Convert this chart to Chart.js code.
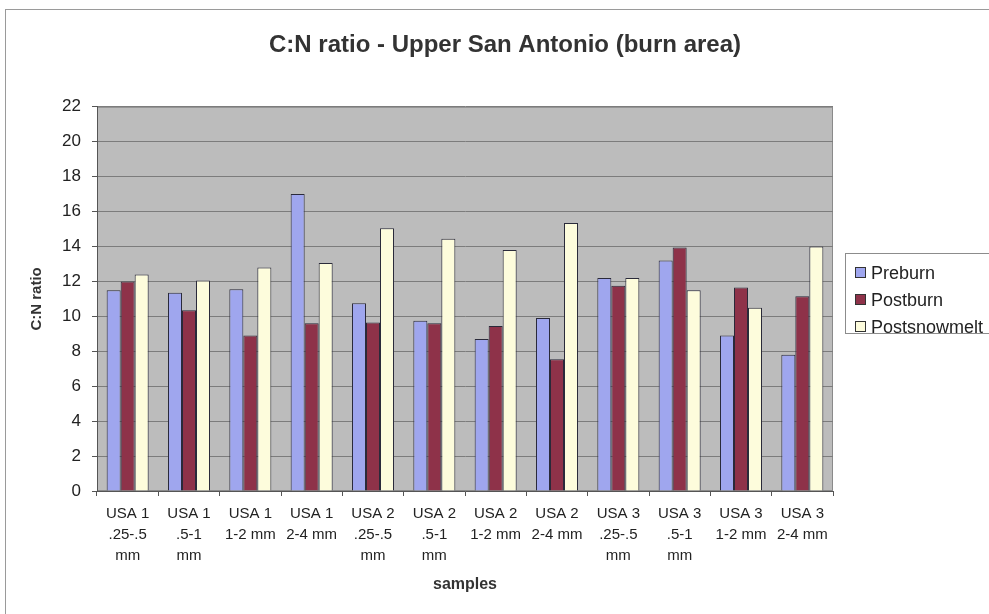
<!DOCTYPE html>
<html>
<head>
<meta charset="utf-8">
<script src="https://cdn.jsdelivr.net/npm/chart.js@4"></script>
<style>
  html, body { margin: 0; padding: 0; background: #ffffff; overflow: hidden; }
  #wrap { position: relative; width: 989px; height: 614px; overflow: hidden; }
  #frame {
    position: absolute; left: 5px; top: 9px; width: 1100px; height: 700px;
    border-top: 1px solid #9a9a9a; border-left: 1px solid #9a9a9a;
  }
  #chartCN { position: absolute; left: 0; top: 0; }
  #legende {
    position: absolute; left: 845px; top: 253px; width: 170px; height: 79px;
    border: 1px solid #8c8c8c; background: #ffffff;
    font-family: "Liberation Sans", Arial, sans-serif; font-size: 18px; color: #222;
  }
  .item { position: absolute; left: 9px; height: 20px; line-height: 20px; white-space: nowrap; }
  .item span.carre {
    display: inline-block; width: 9px; height: 9px; border: 1px solid #333;
    margin-right: 5px; vertical-align: 1px;
  }
</style>
</head>
<body>
<div id="wrap">
  <div id="frame"></div>
  <canvas id="chartCN" width="1010" height="614"></canvas>
  <div id="legende"></div>
</div>
<script>
// donnees
const echantillons = [
  ["USA 1", ".25-.5", "mm"], ["USA 1", ".5-1", "mm"], ["USA 1", "1-2 mm"], ["USA 1", "2-4 mm"],
  ["USA 2", ".25-.5", "mm"], ["USA 2", ".5-1", "mm"], ["USA 2", "1-2 mm"], ["USA 2", "2-4 mm"],
  ["USA 3", ".25-.5", "mm"], ["USA 3", ".5-1", "mm"], ["USA 3", "1-2 mm"], ["USA 3", "2-4 mm"],
];
const preburn = [11.5, 11.35, 11.55, 17.0, 10.75, 9.75, 8.7, 9.9, 12.2, 13.2, 8.9, 7.8];
const postburn = [12.0, 10.35, 8.9, 9.6, 9.65, 9.6, 9.45, 7.55, 11.75, 13.95, 11.65, 11.15];
const postsnowmelt = [12.4, 12.05, 12.8, 13.05, 15.05, 14.45, 13.8, 15.35, 12.2, 11.5, 10.5, 14.0];
const yTicks = [0, 2, 4, 6, 8, 10, 12, 14, 16, 18, 20, 22];

const series = [
  { label: "Preburn", data: preburn, color: "#9fa6ee" },
  { label: "Postburn", data: postburn, color: "#8e3249" },
  { label: "Postsnowmelt", data: postsnowmelt, color: "#fdfcdc" },
];

const police = "'Liberation Sans', Arial, sans-serif";

// fond gris de la zone de trace
const fondZone = {
  id: "fondZone",
  beforeDraw(chart) {
    const { ctx, chartArea: a } = chart;
    ctx.save();
    ctx.fillStyle = "#bcbcbc";
    ctx.fillRect(a.left, a.top, a.width, a.height);
    ctx.strokeStyle = "#8a8a8a";
    ctx.lineWidth = 1;
    ctx.strokeRect(a.left + 0.5, a.top + 0.5, a.width - 1, a.height - 1);
    ctx.restore();
  },
};

const canvas = document.getElementById("chartCN");
new Chart(canvas, {
  type: "bar",
  data: {
    labels: echantillons,
    datasets: series.map((s) => ({
      label: s.label,
      data: s.data,
      backgroundColor: s.color,
      borderColor: "#2a2a3a",
      borderWidth: 1,
      barPercentage: 1,
      categoryPercentage: 0.685,
    })),
  },
  options: {
    responsive: false,
    animation: false,
    layout: { padding: 0 },
    scales: {
      x: {
        grid: {
          display: true, drawOnChartArea: false, drawTicks: true,
          tickLength: 5, offset: true, color: "#555555",
        },
        border: { color: "#555555" },
        ticks: {
          autoSkip: false, maxRotation: 0, minRotation: 0, padding: 7,
          color: "#222222",
          font: { family: police, size: 15, lineHeight: 1.4 },
        },
        title: {
          display: true, text: "samples", color: "#333333",
          font: { family: police, size: 16, weight: "bold" },
          padding: { top: 0, bottom: 20 },
        },
        afterFit: (s) => { s.height = 123; },
      },
      y: {
        min: 0,
        max: 22,
        afterBuildTicks: (s) => { s.ticks = yTicks.map((v) => ({ value: v })); },
        grid: { color: "#7c7c7c", tickLength: 5, tickColor: "#555555" },
        border: { color: "#555555" },
        ticks: {
          padding: 11, color: "#222222",
          font: { family: police, size: 17 },
        },
        title: {
          display: true, text: "C:N ratio", color: "#333333",
          font: { family: police, size: 15, weight: "bold" },
          padding: { top: 28, bottom: 0 },
        },
        afterFit: (s) => { s.width = 97; },
      },
      y2: {
        position: "right",
        display: true,
        grid: { display: false, drawTicks: false },
        border: { display: false },
        ticks: { display: false },
        afterFit: (s) => { s.width = 177; },
      },
    },
    plugins: {
      legend: { display: false },
      tooltip: { enabled: false },
      title: {
        display: true,
        text: "C:N ratio - Upper San Antonio (burn area)",
        color: "#333333",
        font: { family: police, size: 24, weight: "bold" },
        padding: { top: 31, bottom: 47 },
      },
    },
  },
  plugins: [fondZone],
});

// legende encadree a droite
const legende = document.getElementById("legende");
legende.innerHTML = series
  .map((s, i) => `<div class="item" style="top:${9 + i * 27}px"><span class="carre" style="background:${s.color}"></span>${s.label}</div>`)
  .join("");
</script>
</body>
</html>
